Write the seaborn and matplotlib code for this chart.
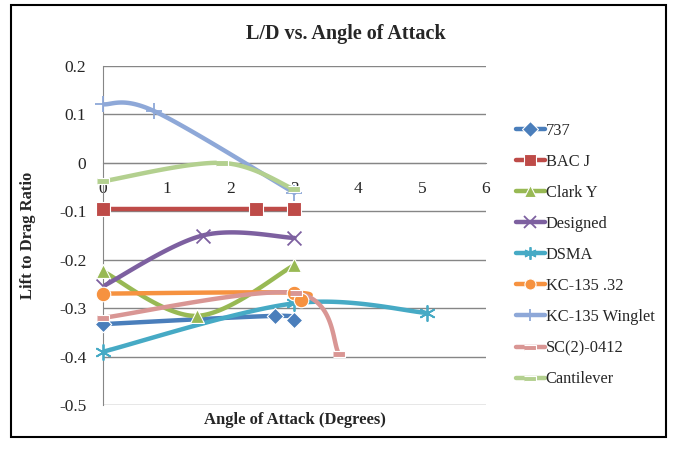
import numpy as np
import matplotlib.pyplot as plt
import seaborn as sns
from matplotlib.lines import Line2D
from matplotlib.patches import Rectangle

sns.set_style('white')
plt.rcParams['font.family'] = ['Liberation Serif', 'DejaVu Serif']

## values
names = ['737', 'BAC J', 'Clark Y', 'Designed', 'DSMA', 'KC-135 .32',
         'KC-135 Winglet', 'SC(2)-0412', 'Cantilever']
x_737 = [0, 2.7, 3.0]
y_737 = [-0.333, -0.316, -0.325]
x_bacj = [0, 2.4, 3.0]
y_bacj = [-0.095, -0.095, -0.095]
x_clarky = [0, 1.47, 3.0]
y_clarky = [-0.224, -0.316, -0.211]
x_designed = [0, 1.56, 3.0]
y_designed = [-0.255, -0.15, -0.155]
x_dsma = [0, 3.0, 5.08]
y_dsma = [-0.39, -0.29, -0.31]
x_kc32 = [0, 3.0, 3.1]
y_kc32 = [-0.27, -0.268, -0.283]
x_winglet = [0, 0.8, 3.0]
y_winglet = [0.121, 0.107, -0.062]
x_sc2 = [0, 3.03, 3.7]
y_sc2 = [-0.32, -0.269, -0.395]
x_cant = [0, 1.86, 3.0]
y_cant = [-0.038, 0.0, -0.055]

xs = [x_737, x_bacj, x_clarky, x_designed, x_dsma, x_kc32, x_winglet, x_sc2, x_cant]
ys = [y_737, y_bacj, y_clarky, y_designed, y_dsma, y_kc32, y_winglet, y_sc2, y_cant]

colors = ['#4A7EBB', '#BE4B48', '#98B954', '#7D60A0', '#46AAC5', '#F69240',
          '#8EA8D8', '#D99694', '#B3D08F']
dash = [(-1, -0.45), (1, -0.45), (1, 0.45), (-1, 0.45)]
markers = ['D', 's', '^', 'x', (6, 2, 0), 'o', '+', dash, dash]
msizes = [70, 90, 100, 100, 120, 110, 130, 75, 75]


def smooth(px, py, n=40):
    ##excel style smoothed line (catmull-rom bezier through the points)
    p = np.column_stack([px, py]).astype(float)
    ext = np.vstack([p[0], p, p[-1]])
    out = []
    t = np.linspace(0, 1, n)[:, None]
    for i in range(len(p) - 1):
        p0, p1, p2, p3 = ext[i], ext[i + 1], ext[i + 2], ext[i + 3]
        c1 = p1 + (p2 - p0) / 6
        c2 = p2 - (p3 - p1) / 6
        seg = ((1 - t) ** 3) * p1 + 3 * ((1 - t) ** 2) * t * c1 + 3 * (1 - t) * t ** 2 * c2 + t ** 3 * p2
        out.append(seg if i == 0 else seg[1:])
    out = np.vstack(out)
    return out[:, 0], out[:, 1]


fig = plt.figure(figsize=(6.73, 4.49), dpi=100)
ax = fig.add_axes([0.153, 0.098, 0.569, 0.755])

for i in range(len(names)):
    sx, sy = smooth(xs[i], ys[i])
    sns.lineplot(x=sx, y=sy, sort=False, color=colors[i], linewidth=3.2,
                 ax=ax, zorder=2 + i * 0.1)
for i in range(len(names)):
    m = markers[i]
    if m in ('x', '+', (6, 2, 0)):
        sns.scatterplot(x=xs[i], y=ys[i], marker=m, s=msizes[i], color=colors[i],
                        linewidth=1.3, ax=ax, zorder=4, clip_on=False)
    else:
        sns.scatterplot(x=xs[i], y=ys[i], marker=m, s=msizes[i], color=colors[i],
                        edgecolor='white', linewidth=0.8, ax=ax, zorder=4, clip_on=False)

ax.set_xlim(0, 6)
ax.set_ylim(-0.5, 0.2)
ax.set_yticks(np.arange(-0.5, 0.21, 0.1))
ax.set_yticklabels(['-0.5', '-0.4', '-0.3', '-0.2', '-0.1', '0', '0.1', '0.2'])
ax.set_xticks(range(7))
ax.yaxis.grid(True, color='#868686', linewidth=1)
ax.set_axisbelow(True)
for s in ['top', 'right']:
    ax.spines[s].set_visible(False)
ax.spines['bottom'].set_position(('data', 0))
ax.spines['bottom'].set_color('#868686')
ax.spines['left'].set_color('#868686')
ax.tick_params(axis='y', direction='out', length=6, color='#868686', labelsize=12.5, pad=6)
ax.tick_params(axis='x', direction='out', length=4, color='#868686', labelsize=12.5, pad=9)
ax.set_xlabel('')
ax.set_ylabel('')

fig.text(0.514, 0.924, 'L/D vs. Angle of Attack', ha='center', va='center',
         fontsize=14.5, fontweight='bold')
fig.text(0.438, 0.064, 'Angle of Attack (Degrees)', ha='center', va='center',
         fontsize=12, fontweight='bold')
fig.text(0.042, 0.475, 'Lift to Drag Ratio', ha='center', va='center',
         rotation=90, fontsize=12, fontweight='bold')

handles = []
for i in range(len(names)):
    m = markers[i]
    filled = m not in ('x', '+', (6, 2, 0))
    handles.append(Line2D([0], [0], color=colors[i], lw=3.2, marker=m,
                          markersize=8 if filled else 9,
                          markeredgecolor='white' if filled else colors[i],
                          markeredgewidth=0.8 if filled else 1.3))
fig.legend(handles, names, loc='center left', bbox_to_anchor=(0.745, 0.432),
           frameon=False, fontsize=11.8, handlelength=1.75, handletextpad=0.05,
           labelspacing=0.92)

fig.add_artist(Rectangle((0.016, 0.027), 0.974, 0.962, transform=fig.transFigure,
                         fill=False, edgecolor='black', linewidth=1.5))

fig.savefig('out.png', dpi=100)
